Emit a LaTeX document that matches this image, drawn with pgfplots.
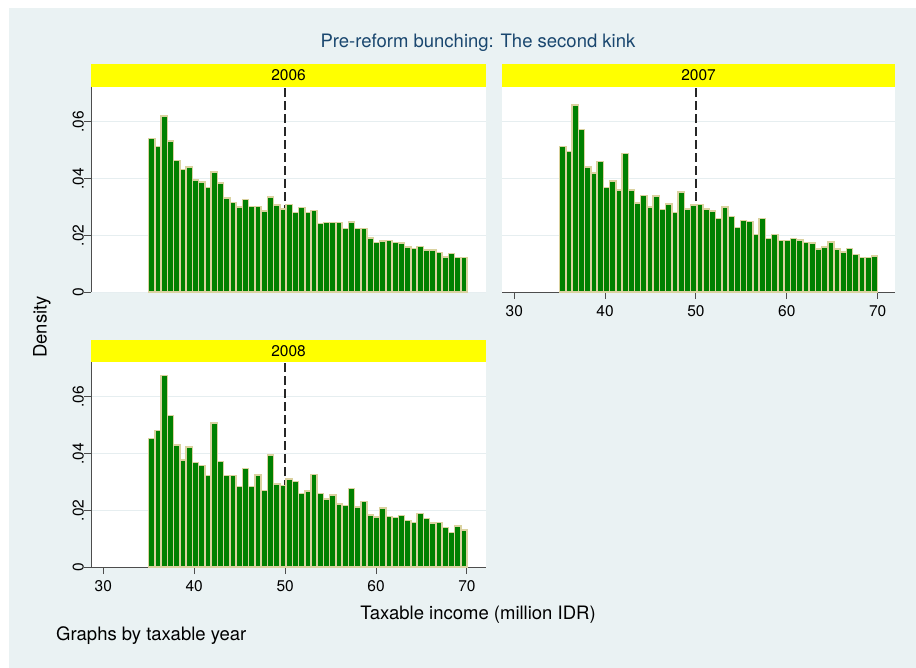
\documentclass[border=0pt]{standalone}
\usepackage{pgfplots}
\pgfplotsset{compat=1.18}
\usepackage{pgfplotstable}
\usepackage{fontspec}
\setmainfont{TeX Gyre Heros}

\definecolor{bgc}{HTML}{EAF2F3}
\definecolor{gridc}{HTML}{E6EEF0}
\definecolor{titlec}{HTML}{1A476F}
\definecolor{axisc}{HTML}{4D4D4D}
\definecolor{barfill}{RGB}{0,128,0}
\definecolor{baredge}{RGB}{218,210,160}
\definecolor{stripc}{RGB}{255,255,0}

% density per bin (bin width 35/51), left bin edges; last row closes the final bin
\pgfplotstableread{
x      d2006  d2007  d2008
35.000 0.0541 0.0514 0.0454
35.686 0.0513 0.0496 0.0481
36.373 0.0621 0.0660 0.0675
37.059 0.0532 0.0573 0.0535
37.745 0.0464 0.0441 0.0430
38.431 0.0432 0.0419 0.0377
39.118 0.0440 0.0461 0.0424
39.804 0.0395 0.0368 0.0369
40.490 0.0388 0.0391 0.0358
41.176 0.0369 0.0360 0.0322
41.863 0.0424 0.0489 0.0508
42.549 0.0384 0.0360 0.0372
43.235 0.0332 0.0314 0.0322
43.922 0.0316 0.0341 0.0322
44.608 0.0300 0.0299 0.0284
45.294 0.0326 0.0338 0.0347
45.980 0.0302 0.0291 0.0284
46.667 0.0302 0.0311 0.0325
47.353 0.0285 0.0280 0.0270
48.039 0.0335 0.0353 0.0395
48.725 0.0306 0.0293 0.0293
49.412 0.0292 0.0306 0.0287
50.098 0.0308 0.0309 0.0310
50.784 0.0280 0.0292 0.0302
51.471 0.0298 0.0285 0.0260
52.157 0.0280 0.0259 0.0268
52.843 0.0287 0.0299 0.0326
53.529 0.0241 0.0266 0.0259
54.216 0.0245 0.0228 0.0240
54.902 0.0245 0.0252 0.0254
55.588 0.0245 0.0248 0.0223
56.275 0.0224 0.0202 0.0217
56.961 0.0247 0.0259 0.0277
57.647 0.0224 0.0188 0.0211
58.333 0.0224 0.0202 0.0231
59.020 0.0191 0.0182 0.0184
59.706 0.0174 0.0181 0.0176
60.392 0.0179 0.0188 0.0208
61.078 0.0182 0.0184 0.0179
61.765 0.0175 0.0174 0.0175
62.451 0.0172 0.0172 0.0181
63.137 0.0158 0.0151 0.0164
63.824 0.0153 0.0158 0.0157
64.510 0.0161 0.0176 0.0189
65.196 0.0149 0.0151 0.0171
65.882 0.0149 0.0141 0.0156
66.569 0.0140 0.0153 0.0157
67.255 0.0124 0.0132 0.0140
67.941 0.0135 0.0122 0.0121
68.627 0.0121 0.0121 0.0144
69.314 0.0121 0.0127 0.0131
70.000 0.0121 0.0127 0.0131
}\hist

\newcommand\ticksize{\fontsize{15.5bp}{18bp}\selectfont}
\newcommand\labsize{\fontsize{18.5bp}{22bp}\selectfont}

\pgfplotsset{
  panel/.style={
    scale only axis, width=395bp, height=205bp,
    xmin=28.65, xmax=72.09, ymin=0, ymax=0.0723,
    scaled y ticks=false, scaled x ticks=false,
    axis background/.style={fill=white},
    axis x line*=bottom, axis y line*=left,
    axis line style={draw=axisc, line width=1bp},
    ytick={0,0.02,0.04,0.06}, yticklabels={0,.02,.04,.06},
    xtick={30,40,50,60,70}, xticklabels={30,40,50,60,70},
    tick align=outside, major tick length=7bp,
    tick style={draw=axisc, line width=1bp},
    ymajorgrids, grid style={draw=gridc, line width=1bp},
    ticklabel style={font=\ticksize, inner sep=0pt},
    xticklabel style={anchor=north, yshift=-6bp},
    yticklabel style={anchor=south, rotate=90},
  },
  kink/.style={draw=black!85, line width=1.5bp, dash pattern=on 9bp off 4bp},
  bars/.style={ybar interval, fill=barfill, draw=baredge, line width=1.5bp},
}

\begin{document}
\begin{tikzpicture}
\useasboundingbox (0,0) rectangle (916bp,-668bp);
\fill[white] (0,0) rectangle (916bp,-668bp);
\fill[bgc] (9bp,-8bp) rectangle (916bp,-668bp);

% 2006
\begin{axis}[panel, at={(91bp,-292bp)}, anchor=south west,
  xtick=\empty, x axis line style={draw=none}]
  \addplot[kink] coordinates {(50,0) (50,0.0723)};
  \addplot[bars] table[x=x, y=d2006] {\hist};
\end{axis}

% 2007
\begin{axis}[panel, at={(502bp,-292bp)}, anchor=south west, width=393bp,
  xmax=71.91, yticklabels={}, y axis line style={draw=none},
  ytick style={draw=none}]
  \addplot[kink] coordinates {(50,0) (50,0.0723)};
  \addplot[bars] table[x=x, y=d2007] {\hist};
\end{axis}

% 2008
\begin{axis}[panel, at={(91bp,-567bp)}, anchor=south west]
  \addplot[kink] coordinates {(50,0) (50,0.0723)};
  \addplot[bars] table[x=x, y=d2008] {\hist};
\end{axis}

% strips with the year of each panel
\fill[stripc] (91bp,-64bp) rectangle (486bp,-87bp);
\fill[stripc] (502bp,-64bp) rectangle (895bp,-87bp);
\fill[stripc] (91bp,-340bp) rectangle (486bp,-362bp);
\node[font=\ticksize] at (288.5bp,-75.5bp) {2006};
\node[font=\ticksize] at (698.5bp,-75.5bp) {2007};
\node[font=\ticksize] at (288.5bp,-351bp) {2008};

% titles and notes
\node[font=\labsize, text=titlec] at (478bp,-43bp) {Pre-reform bunching: The second kink};
\node[font=\labsize, rotate=90] at (42bp,-327bp) {Density};
\node[font=\labsize] at (478bp,-615bp) {Taxable income (million IDR)};
\node[font=\labsize, anchor=west, inner sep=0pt] at (56bp,-636bp) {Graphs by taxable year};
\end{tikzpicture}
\end{document}
